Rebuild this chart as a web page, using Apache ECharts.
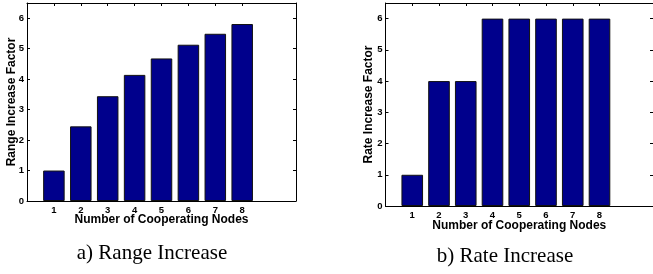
<!DOCTYPE html>
<html><head><meta charset="utf-8">
<script src="https://cdn.jsdelivr.net/npm/echarts@6/dist/echarts.min.js"></script>
<style>html,body{margin:0;padding:0;background:#fff}#c{width:653px;height:274px}</style>
</head><body><div id="c"></div>
<script>
const nodes = [1, 2, 3, 4, 5, 6, 7, 8];
const rangeFactor = [1.0, 2.45, 3.44, 4.14, 4.68, 5.13, 5.49, 5.81];
const rateFactor = [1, 4, 4, 6, 6, 6, 6, 6];
const yTicks = [0, 1, 2, 3, 4, 5, 6];
const captions = ['a) Range Increase', 'b) Rate Increase'];

const chart = echarts.init(document.getElementById('c'), null, {renderer: 'canvas'});
const barColor = '#00008c';
const fontBold = {fontFamily: 'Liberation Sans, Arial, sans-serif', fontWeight: 'bold', color: '#000'};

function xAxes(gi, nameGap) {
  return [{
    gridIndex: gi, type: 'value', min: 0, max: 10, position: 'bottom',
    name: 'Number of Cooperating Nodes', nameLocation: 'middle', nameGap: nameGap, nameMoveOverlap: false,
    nameTextStyle: Object.assign({fontSize: 12}, fontBold),
    axisLine: {show: true, onZero: false, lineStyle: {color: '#000', width: 1}},
    axisTick: {show: true, inside: true, length: 3, customValues: nodes, lineStyle: {color: '#000'}},
    axisLabel: {show: true, customValues: nodes, margin: 4, fontSize: 9.5, ...fontBold},
    splitLine: {show: false}
  }, {
    gridIndex: gi, type: 'value', min: 0, max: 10, position: 'top',
    axisLine: {show: true, onZero: false, lineStyle: {color: '#000', width: 1}},
    axisTick: {show: true, inside: true, length: 3, customValues: nodes, lineStyle: {color: '#000'}},
    axisLabel: {show: false}, splitLine: {show: false}
  }];
}
function yAxes(gi, name, nameGap) {
  return [{
    gridIndex: gi, type: 'value', min: 0, max: 6.5, position: 'left',
    name: name, nameLocation: 'middle', nameGap: nameGap, nameMoveOverlap: false,
    nameTextStyle: Object.assign({fontSize: 12}, fontBold),
    axisLine: {show: true, onZero: false, lineStyle: {color: '#000', width: 1}},
    axisTick: {show: true, inside: true, length: 3, customValues: yTicks, lineStyle: {color: '#000'}},
    axisLabel: {show: true, customValues: yTicks, margin: 3, fontSize: 9.5, ...fontBold},
    splitLine: {show: false}
  }, {
    gridIndex: gi, type: 'value', min: 0, max: 6.5, position: 'right',
    axisLine: {show: true, onZero: false, lineStyle: {color: '#000', width: 1}},
    axisTick: {show: true, inside: true, length: 3, customValues: yTicks, lineStyle: {color: '#000'}},
    axisLabel: {show: false}, splitLine: {show: false}
  }];
}

const option = {
  animation: false,
  backgroundColor: '#fff',
  grid: [
    {left: 27, top: 3, width: 269, height: 198, containLabel: false},
    {left: 385.5, top: 3, width: 270, height: 203, containLabel: false}
  ],
  xAxis: [...xAxes(0, 13), ...xAxes(1, 14)],
  yAxis: [...yAxes(0, 'Range Increase Factor', 9), ...yAxes(1, 'Rate Increase Factor', 10.5)],
  series: [
    {type: 'bar', xAxisIndex: 0, yAxisIndex: 0, barWidth: 21.5,
     data: nodes.map((n, i) => [n, rangeFactor[i]]),
     itemStyle: {color: barColor, borderColor: '#111', borderWidth: 1}},
    {type: 'bar', xAxisIndex: 2, yAxisIndex: 2, barWidth: 21.6,
     data: nodes.map((n, i) => [n, rateFactor[i]]),
     itemStyle: {color: barColor, borderColor: '#111', borderWidth: 1}}
  ],
  title: [
    {text: captions[0], left: 147, top: 238, textAlign: 'center',
     textStyle: {fontFamily: 'Liberation Serif, Times New Roman, serif', fontWeight: 'normal', fontSize: 21, color: '#000'}},
    {text: captions[1], left: 500, top: 241, textAlign: 'center',
     textStyle: {fontFamily: 'Liberation Serif, Times New Roman, serif', fontWeight: 'normal', fontSize: 21, color: '#000'}}
  ]
};
chart.setOption(option);
</script></body></html>
